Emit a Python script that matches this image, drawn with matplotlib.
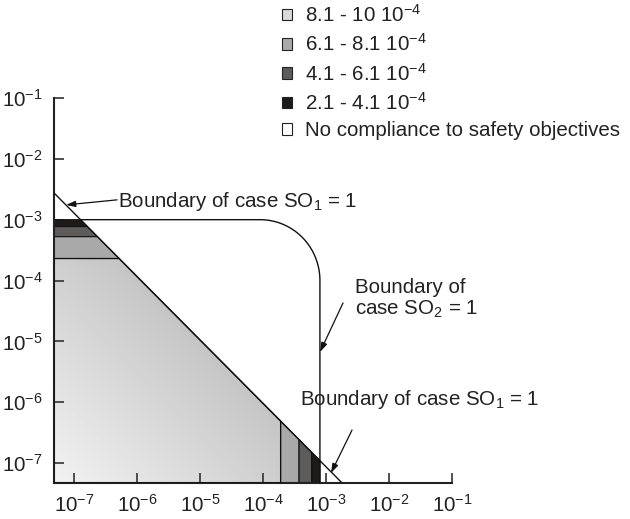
import numpy as np
import matplotlib
matplotlib.use("Agg")
import matplotlib.pyplot as plt
from matplotlib.patches import Polygon, Patch

plt.rcParams['font.family'] = ['Liberation Sans', 'DejaVu Sans']
plt.rcParams['mathtext.fontset'] = 'custom'
plt.rcParams['mathtext.rm'] = 'Liberation Sans'
plt.rcParams['mathtext.it'] = 'Liberation Sans:italic'
plt.rcParams['mathtext.bf'] = 'Liberation Sans:bold'
plt.rcParams['mathtext.default'] = 'regular'

FS = 14.8

# ---------------------------------------------------------------------------
# Data
# ---------------------------------------------------------------------------
x_limits = [4.8e-8, 1e-1]
y_limits = [4.7e-8, 1e-1]

# boundary SO1 = 1 (straight line in log-log), endpoints on the axes
so1_x = [4.8e-8, 1.8e-3]
so1_y = [2.75e-3, 4.7e-8]

# boundary SO2 = 1: horizontal level, vertical level, corner radius (decades)
so2_y_level = 1.0e-3
so2_x_level = 8.0e-4
so2_corner_dec = [0.95, 1.0]

# band edges (top: along y, bottom: along x), outermost first
top_edges_y = [1.0e-3, 7.7e-4, 5.25e-4, 2.3e-4]
bottom_edges_x = [8.0e-4, 5.9e-4, 3.7e-4, 1.9e-4]

band_colors = ['#1e1a18', '#5e5b5b', '#a9a9a9']
legend_labels = ['8.1 - 10 10$^{-4}$', '6.1 - 8.1 10$^{-4}$',
                 '4.1 - 6.1 10$^{-4}$', '2.1 - 4.1 10$^{-4}$',
                 'No compliance to safety objectives']
legend_colors = ['#dadada', '#a9a9a9', '#5e5b5b', '#1e1a18', '#ffffff']


def diag_y(x):
    lx0, lx1 = np.log10(so1_x)
    ly0, ly1 = np.log10(so1_y)
    k = (ly1 - ly0) / (lx1 - lx0)
    return 10 ** (ly0 + k * (np.log10(x) - lx0))


def diag_x(y):
    lx0, lx1 = np.log10(so1_x)
    ly0, ly1 = np.log10(so1_y)
    k = (lx1 - lx0) / (ly1 - ly0)
    return 10 ** (lx0 + k * (np.log10(y) - ly0))


fig = plt.figure(figsize=(6.3, 5.19), dpi=100)
ax = fig.add_axes([54 / 630, 36 / 519, 398 / 630, 385 / 519])
ax.set_xscale('log')
ax.set_yscale('log')
ax.set_xlim(*x_limits)
ax.set_ylim(*y_limits)

xmin, ymin = x_limits[0], y_limits[0]

# light region with gradient
xl = bottom_edges_x[-1]
yl = top_edges_y[-1]
light = Polygon([(xmin, ymin), (xl, ymin), (xl, diag_y(xl)),
                 (diag_x(yl), yl), (xmin, yl)],
                closed=True, facecolor='none', edgecolor='#111111', lw=0.9, zorder=3)
ax.add_patch(light)
u, v = np.meshgrid(np.linspace(0, 1, 300), np.linspace(0, 1, 300))
t = (u * 398 + v * 385) / 290.0
grad = np.clip(0.95 - 0.18 * t, 0, 1)
img = ax.imshow(grad, cmap='gray', vmin=0, vmax=1, origin='lower',
                extent=(0, 1, 0, 1), transform=ax.transAxes,
                aspect='auto', interpolation='bilinear', zorder=1)
img.set_clip_path(light)

# top bands
for i, c in enumerate(band_colors):
    y_hi, y_lo = top_edges_y[i], top_edges_y[i + 1]
    ax.add_patch(Polygon([(xmin, y_lo), (diag_x(y_lo), y_lo),
                          (diag_x(y_hi), y_hi), (xmin, y_hi)],
                         closed=True, facecolor=c, edgecolor='#111111',
                         lw=0.8, zorder=2))

# bottom bands
for i, c in enumerate(band_colors):
    x_hi, x_lo = bottom_edges_x[i], bottom_edges_x[i + 1]
    ax.add_patch(Polygon([(x_lo, ymin), (x_hi, ymin),
                          (x_hi, diag_y(x_hi)), (x_lo, diag_y(x_lo))],
                         closed=True, facecolor=c, edgecolor='#111111',
                         lw=0.8, zorder=2))

# boundary SO1
ax.plot(so1_x, so1_y, color='#111111', lw=1.0, zorder=4)

# boundary SO2 with rounded corner (built in log space)
lxv, lyh = np.log10(so2_x_level), np.log10(so2_y_level)
rx, ry = so2_corner_dec
cx, cy = lxv - rx, lyh - ry
theta = np.linspace(np.pi / 2, 0, 60)
lx = np.concatenate([[np.log10(diag_x(so2_y_level))], cx + rx * np.cos(theta), [lxv]])
ly = np.concatenate([[lyh], cy + ry * np.sin(theta), [np.log10(ymin)]])
ax.plot(10 ** lx, 10 ** ly, color='#111111', lw=1.0, zorder=4)

# annotations
arrow = dict(arrowstyle='-|>,head_length=0.55,head_width=0.18',
             color='#111111', lw=0.9, shrinkA=0, shrinkB=0)
ax.annotate('', xy=(10 ** -7.127, 10 ** -2.757),
            xytext=(10 ** -6.317, 10 ** -2.674), arrowprops=arrow, zorder=5)
ax.annotate('', xy=(10 ** -3.095, 10 ** -5.174),
            xytext=(10 ** -2.730, 10 ** -4.368), arrowprops=arrow, zorder=5)
ax.annotate('', xy=(10 ** -2.921, 10 ** -7.164),
            xytext=(10 ** -2.587, 10 ** -6.457), arrowprops=arrow, zorder=5)

tc = '#222222'
ax.text(0.161, 0.717, 'Boundary of case SO$_1$ = 1', transform=ax.transAxes,
        fontsize=FS, color=tc, va='baseline', ha='left')
ax.text(0.756, 0.4935, 'Boundary of', transform=ax.transAxes,
        fontsize=FS, color=tc, va='baseline', ha='left')
ax.text(0.756, 0.436, 'case SO$_2$ = 1', transform=ax.transAxes,
        fontsize=FS, color=tc, va='baseline', ha='left')
ax.text(0.618, 0.2026, 'Boundary of case SO$_1$ = 1', transform=ax.transAxes,
        fontsize=FS, color=tc, va='baseline', ha='left', zorder=6)

# axes styling
for s in ['top', 'right']:
    ax.spines[s].set_visible(False)
for s in ['left', 'bottom']:
    ax.spines[s].set_color('#222222')
    ax.spines[s].set_linewidth(1.5)
ax.set_xticks([10.0 ** e for e in range(-7, 0)])
ax.set_yticks([10.0 ** e for e in range(-7, 0)])
ax.minorticks_off()
ax.tick_params(which='major', direction='in', length=7, width=1.2,
               colors='#333333', labelsize=FS, labelcolor=tc, pad=8)

# legend
handles = [Patch(facecolor=c, edgecolor='#222222', lw=0.8) for c in legend_colors]
fig.legend(handles, legend_labels, loc='upper left',
           bbox_to_anchor=(282 / 630, 1 - 4 / 519), frameon=False,
           fontsize=FS, handlelength=0.5, handleheight=0.5,
           handletextpad=0.6, labelspacing=0.36, borderpad=0,
           borderaxespad=0, labelcolor=tc)

fig.savefig('out.png', dpi=100)
